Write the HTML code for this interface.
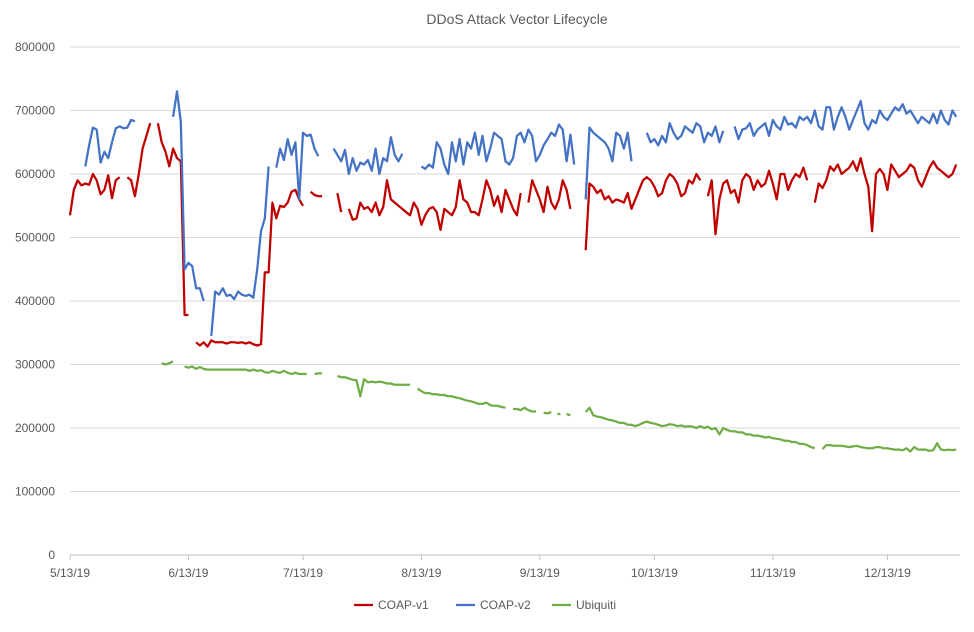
<!DOCTYPE html>
<html><head><meta charset="utf-8"><style>
body{margin:0;background:#fff;font-family:"Liberation Sans",Arial,sans-serif;}
svg text{font-family:"Liberation Sans",Arial,sans-serif;fill:#595959;}
</style></head><body>
<svg id="chart" width="974" height="627" viewBox="0 0 974 627" xmlns="http://www.w3.org/2000/svg">
<rect width="974" height="627" fill="#fff"/>
<text x="517" y="24" text-anchor="middle" font-size="14">DDoS Attack Vector Lifecycle</text>
<g id="grid"></g><g id="yt"></g><g id="xt"></g><g id="series"></g>
<g>
<line x1="354" y1="605" x2="373" y2="605" stroke="#C00000" stroke-width="2.25"/>
<text x="378" y="609" font-size="12">COAP-v1</text>
<line x1="456" y1="605" x2="475" y2="605" stroke="#4472C4" stroke-width="2.25"/>
<text x="480" y="609" font-size="12">COAP-v2</text>
<line x1="552" y1="605" x2="571" y2="605" stroke="#70AD47" stroke-width="2.25"/>
<text x="576" y="609" font-size="12">Ubiquiti</text>
</g>
</svg>
<script>
const yTicks=[0,100000,200000,300000,400000,500000,600000,700000,800000];
const xTickLabels=["5/13/19","6/13/19","7/13/19","8/13/19","9/13/19","10/13/19","11/13/19","12/13/19"];
const xTickDays=[0,31,61,92,123,153,184,214];
const N=null;
const coapV1=[535,575,590,582,585,583,600,590,568,575,598,562,590,595,N,
595,590,565,600,640,660,680,N,680,650,635,612,640,625,620,
378,378,N,
335,330,335,328,338,335,335,335,333,335,335,334,335,333,335,332,330,332,
445,445,555,530,550,548,555,572,575,560,550,N,
572,567,565,565,N,N,N,570,540,N,
545,528,530,555,545,548,540,555,535,548,590,560,555,550,545,540,535,555,545,520,535,545,548,540,512,545,540,535,548,590,560,555,540,540,535,560,590,575,550,565,540,575,560,545,535,570,N,
555,590,575,560,540,580,555,545,560,590,575,545,N,N,N,
480,585,580,570,575,560,565,555,560,558,555,570,545,560,575,590,595,590,580,565,570,590,600,595,585,565,570,590,585,600,590,N,
565,590,505,560,585,590,570,575,555,
590,600,595,575,590,580,585,605,585,560,600,600,575,590,600,595,610,590,N,
555,585,578,590,612,605,615,600,605,610,620,605,625,600,580,510,600,608,600,575,615,605,595,600,605,615,610,590,580,595,610,620,610,605,600,595,600,615];
const coapV2=[N,N,N,N,612,645,673,670,618,635,625,650,672,675,672,673,685,683,
N,N,N,N,N,N,N,N,N,690,730,683,
450,460,455,420,420,400,N,
345,415,410,420,408,410,403,415,410,408,410,405,450,510,530,612,N,
610,640,622,655,630,650,560,665,660,662,640,628,N,N,N,
640,630,620,638,600,625,605,618,615,622,605,640,600,625,620,658,630,620,632,N,N,N,N,
612,608,615,610,650,640,615,600,650,620,655,615,650,640,665,630,660,620,640,665,660,655,620,615,625,660,665,650,670,660,620,630,645,655,665,660,678,670,620,662,615,N,N,
560,673,665,660,655,650,640,620,665,660,640,665,620,N,N,N,
665,650,655,645,660,650,680,665,655,660,675,670,665,680,675,650,665,660,675,650,668,N,N,
675,655,670,672,680,660,670,675,680,660,685,675,670,690,678,680,673,690,
685,690,680,700,675,670,705,705,670,690,705,690,670,685,700,715,680,670,685,680,700,690,685,695,705,700,710,695,700,690,680,690,685,680,695,680,700,685,678,700,690];
const ubiquiti=[N,N,N,N,N,N,N,N,N,N,N,N,N,N,N,N,N,N,N,N,N,N,N,N,
302,300,302,305,N,N,
297,295,297,293,296,293,292,292,292,292,292,292,292,292,292,292,292,290,292,290,291,288,287,290,288,287,290,287,285,287,285,285,285,N,
285,286,286,N,N,N,
282,280,280,278,276,275,250,277,
272,273,272,273,272,270,270,268,268,268,268,268,N,262,258,255,255,253,253,252,252,250,250,248,247,245,243,242,240,238,238,240,236,235,235,233,232,N,230,230,228,232,228,226,226,N,224,223,225,N,222,N,222,220,N,N,N,
225,232,220,218,217,215,213,212,210,208,208,205,205,203,205,208,210,208,207,205,203,204,206,205,203,204,202,203,202,200,203,200,202,198,200,190,200,197,195,195,193,193,190,190,188,188,187,185,186,184,183,182,180,180,178,178,175,175,173,170,168,N,167,173,173,172,172,172,171,170,171,172,170,169,168,168,170,170,168,168,167,166,166,165,168,163,170,166,166,166,164,165,176,166,165,166,165,166];
const X0=70,X1=960,DAYS=233,Y0=555,Y1=47,YMAX=800000;
const xs=d=>X0+d*(X1-X0)/DAYS;
const ys=v=>Y0-v/YMAX*(Y0-Y1);
const NS="http://www.w3.org/2000/svg";
const grid=document.getElementById('grid'),yt=document.getElementById('yt'),xt=document.getElementById('xt'),ser=document.getElementById('series');
yTicks.forEach(v=>{
 const l=document.createElementNS(NS,'line');
 
 
 l.setAttribute('x1',X0);l.setAttribute('x2',X1);l.setAttribute('y1',ys(v));l.setAttribute('y2',ys(v));
 l.setAttribute('stroke',v===0?'#bfbfbf':'#d9d9d9');l.setAttribute('stroke-width','1');
 grid.appendChild(l);
 const t=document.createElementNS(NS,'text');
 
 
 t.setAttribute('x',55);t.setAttribute('y',ys(v)+4);t.setAttribute('text-anchor','end');t.setAttribute('font-size','12');
 t.textContent=v;yt.appendChild(t);
});
xTickLabels.forEach((lab,i)=>{
 const x=xs(xTickDays[i]);
 const tk=document.createElementNS(NS,'line');
 
 
 tk.setAttribute('x1',x);tk.setAttribute('x2',x);tk.setAttribute('y1',Y0);tk.setAttribute('y2',Y0+5);tk.setAttribute('stroke','#bfbfbf');
 xt.appendChild(tk);
 const t=document.createElementNS(NS,'text');
 
 
 t.setAttribute('x',x);t.setAttribute('y',Y0+22);t.setAttribute('text-anchor','middle');t.setAttribute('font-size','12');
 t.textContent=lab;xt.appendChild(t);
});
function draw(arr,color,name){
 let d='',pen=false;
 arr.forEach((v,i)=>{
  if(v===null){pen=false;return;}
  const next=arr[i+1];
  const p=xs(i).toFixed(1)+' '+ys(v*1000).toFixed(1);
  if(!pen){
   if(next===null||next===undefined){d+='M'+(xs(i)-1.5).toFixed(1)+' '+ys(v*1000).toFixed(1)+'L'+(xs(i)+1.5).toFixed(1)+' '+ys(v*1000).toFixed(1);}
   else d+='M'+p;
   pen=true;
  } else d+='L'+p;
 });
 const path=document.createElementNS(NS,'path');
 
 
 path.setAttribute('d',d);path.setAttribute('fill','none');path.setAttribute('stroke',color);
 path.setAttribute('stroke-width','2.25');path.setAttribute('stroke-linejoin','round');
 ser.appendChild(path);
}
draw(ubiquiti,'#70AD47','ubiquiti-line');
draw(coapV1,'#C00000','coap-v1-line');
draw(coapV2,'#4472C4','coap-v2-line');
</script>
</body></html>
